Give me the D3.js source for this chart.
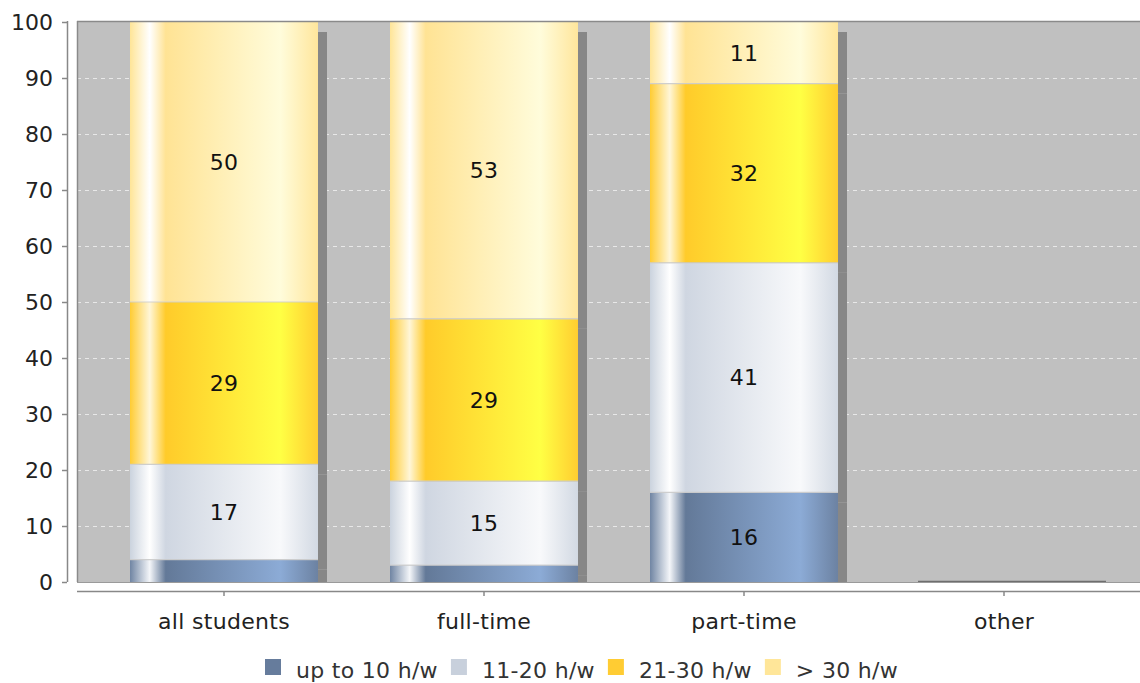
<!DOCTYPE html>
<html><head><meta charset="utf-8">
<script src="https://cdn.jsdelivr.net/npm/d3@7"></script>
<style>
html,body{margin:0;padding:0;background:#fff;}
svg{display:block;font-family:"DejaVu Sans",sans-serif;}
</style></head>
<body><svg id="c" width="1140" height="683"></svg>
<script>
const categories = ["all students", "full-time", "part-time", "other"];
const seriesNames = ["up to 10 h/w", "11-20 h/w", "21-30 h/w", "> 30 h/w"];
const upTo10 = [4, 3, 16, 0];
const h11to20 = [17, 15, 41, 0];
const h21to30 = [29, 29, 32, 0];
const over30 = [50, 53, 11, 0];
const yTicks = [0, 10, 20, 30, 40, 50, 60, 70, 80, 90, 100];

const seriesValues = [upTo10, h11to20, h21to30, over30];
const legendColors = ["#667c9c", "#c8d0dc", "#ffcc33", "#ffe699"];
const gradStops = [
  ["#7085a3", "#f4f6f9", "#637998", "#8cabd6", "#6c82a2"],
  ["#cbd3de", "#ffffff", "#cfd6e1", "#f8f9fb", "#d2d9e3"],
  ["#ffcc33", "#fff6d8", "#ffcb2a", "#ffff44", "#ffcd30"],
  ["#ffe597", "#ffffff", "#ffe394", "#fffcdb", "#ffe69c"]
];
const stopOffsets = [0, 0.105, 0.19, 0.8, 1];

const svg = d3.select("#c");
const plot = {left: 77, top: 21, right: 1140, bottom: 582};
const FS = 22, LS = "0.3px";

const x = d3.scaleBand().domain(categories).range([94, 1134]).paddingInner(0.277).paddingOuter(0.1385);
const y = d3.scaleLinear().domain([0, 100]).range([plot.bottom, plot.top + 1]);

const defs = svg.append("defs");
gradStops.forEach((stops, i) => {
  const g = defs.append("linearGradient").attr("id", "g" + i).attr("x1", "0").attr("x2", "1").attr("y1", "0").attr("y2", "0");
  stops.forEach((c, j) => g.append("stop").attr("offset", stopOffsets[j]).attr("stop-color", c));
});
defs.append("clipPath").attr("id", "plotclip").append("rect")
  .attr("x", plot.left).attr("y", plot.top).attr("width", plot.right - plot.left).attr("height", plot.bottom - plot.top);

svg.append("rect").attr("x", plot.left).attr("y", plot.top).attr("width", plot.right - plot.left)
  .attr("height", plot.bottom - plot.top).attr("fill", "#c0c0c0");

svg.append("g").selectAll("line").data(yTicks.filter(t => t > 0 && t < 100)).join("line")
  .attr("x1", plot.left).attr("x2", plot.right)
  .attr("y1", d => Math.round(y(d)) + 0.5).attr("y2", d => Math.round(y(d)) + 0.5)
  .attr("stroke", "#e8e8e8").attr("stroke-width", 1).attr("stroke-dasharray", "4,4");

const rows = categories.map((c, i) => {
  const r = {cat: c};
  seriesNames.forEach((s, k) => r[s] = seriesValues[k][i]);
  return r;
});
const stacked = d3.stack().keys(seriesNames)(rows);

const gBars = svg.append("g").attr("clip-path", "url(#plotclip)");
stacked.forEach((layer) => {
  gBars.append("g").selectAll("rect").data(layer).join("rect")
    .attr("x", d => x(d.data.cat) + 9)
    .attr("y", d => y(d[1]) + 10)
    .attr("width", x.bandwidth())
    .attr("height", d => Math.max(0, y(d[0]) - y(d[1])))
    .attr("fill", "#878787");
});
gBars.append("g").selectAll("line").data(rows.filter(r => seriesNames.every(s => r[s] === 0))).join("line")
  .attr("x1", d => x(d.cat) + 8).attr("x2", d => x(d.cat) + x.bandwidth() + 8)
  .attr("y1", plot.bottom - 0.5).attr("y2", plot.bottom - 0.5)
  .attr("stroke", "#6e6e6e").attr("stroke-width", 1.5);
stacked.forEach((layer, k) => {
  gBars.append("g").selectAll("rect").data(layer.filter(d => d[1] > d[0])).join("rect")
    .attr("x", d => x(d.data.cat))
    .attr("y", d => y(d[1]))
    .attr("width", x.bandwidth())
    .attr("height", d => y(d[0]) - y(d[1]))
    .attr("fill", `url(#g${k})`);
});
stacked.forEach((layer, k) => {
  if (k === 0) return;
  gBars.append("g").selectAll("line").data(layer.filter(d => d[1] > d[0])).join("line")
    .attr("x1", d => x(d.data.cat)).attr("x2", d => x(d.data.cat) + x.bandwidth())
    .attr("y1", d => y(d[0])).attr("y2", d => y(d[0]))
    .attr("stroke", "rgba(205,205,205,0.9)").attr("stroke-width", 1.2);
});
stacked.forEach((layer) => {
  svg.append("g").selectAll("text").data(layer.filter(d => (d[1] - d[0]) >= 5)).join("text")
    .attr("x", d => x(d.data.cat) + x.bandwidth() / 2)
    .attr("y", d => y((d[0] + d[1]) / 2))
    .attr("dy", "0.35em")
    .attr("text-anchor", "middle")
    .attr("font-size", FS).attr("letter-spacing", LS).attr("fill", "#111")
    .text(d => d[1] - d[0]);
});

svg.append("line").attr("x1", plot.left).attr("x2", plot.right).attr("y1", plot.top + 0.5).attr("y2", plot.top + 0.5)
  .attr("stroke", "#8a8a8a").attr("stroke-width", 1.5);
svg.append("line").attr("x1", plot.left + 0.5).attr("x2", plot.left + 0.5).attr("y1", plot.top).attr("y2", plot.bottom)
  .attr("stroke", "#8a8a8a").attr("stroke-width", 1.5);
svg.append("line").attr("x1", plot.left).attr("x2", plot.right).attr("y1", plot.bottom + 0.5).attr("y2", plot.bottom + 0.5)
  .attr("stroke", "#9a9a9a").attr("stroke-width", 1);

const yAxis = svg.append("g").attr("transform", "translate(67,0)")
  .call(d3.axisLeft(y).tickValues(yTicks).tickSize(5).tickPadding(9));
yAxis.select(".domain").attr("stroke", "#888").attr("stroke-width", 1.5).attr("d", `M0.5,${plot.top}V${plot.bottom}`);
yAxis.selectAll(".tick line").attr("stroke", "#888").attr("stroke-width", 1.5);
yAxis.selectAll(".tick text").attr("font-size", FS).attr("fill", "#222").attr("font-family", "DejaVu Sans");

const xAxis = svg.append("g").attr("transform", "translate(0,591)")
  .call(d3.axisBottom(x).tickSize(5).tickPadding(17));
xAxis.select(".domain").attr("stroke", "#888").attr("stroke-width", 1.5).attr("d", `M${plot.left},0.5H${plot.right}`);
xAxis.selectAll(".tick line").attr("stroke", "#888").attr("stroke-width", 1.5);
xAxis.selectAll(".tick text").attr("font-size", FS).attr("letter-spacing", LS).attr("fill", "#222").attr("font-family", "DejaVu Sans");

const legend = svg.append("g");
let lx = 265;
seriesNames.forEach((s, k) => {
  legend.append("rect").attr("x", lx).attr("y", 659).attr("width", 16).attr("height", 16).attr("fill", legendColors[k]);
  const t = legend.append("text").attr("x", lx + 31).attr("y", 670).attr("dy", "0.35em")
    .attr("font-size", FS).attr("letter-spacing", LS).attr("fill", "#333").text(s);
  lx += 31 + t.node().getComputedTextLength() + 13;
});
</script></body></html>
